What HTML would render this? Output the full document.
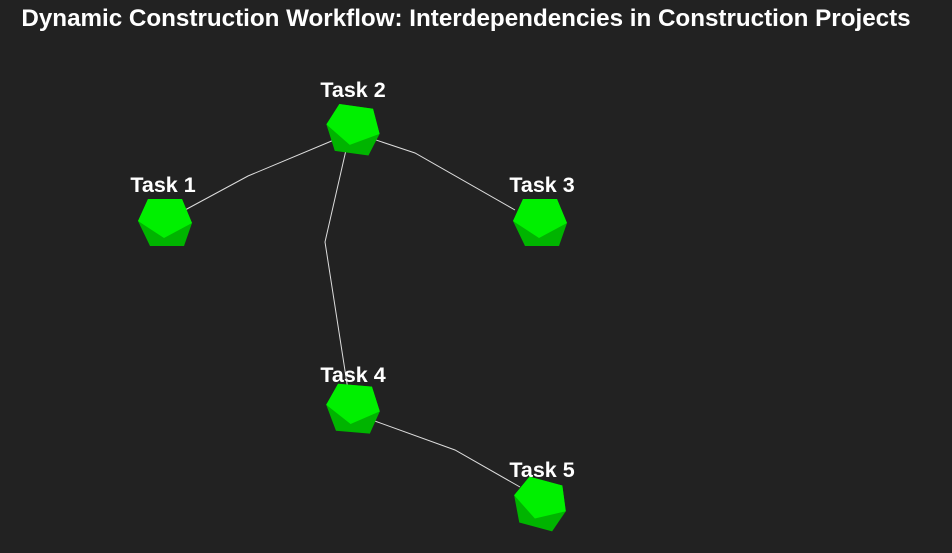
<!DOCTYPE html>
<html><head><style>
body{margin:0;background:#222;}
svg{display:block}
text{font-family:"Liberation Sans",Arial,sans-serif;font-weight:bold;fill:#fff}
</style></head><body>
<svg width="952" height="553" viewBox="0 0 952 553">
<rect width="952" height="553" fill="#222"/>
<text x="466" y="26" font-size="24.2" text-anchor="middle">Dynamic Construction Workflow: Interdependencies in Construction Projects</text>
<g stroke="#ddd" stroke-width="1" fill="none">
<polyline points="185,210 248,176 334,140"/>
<polyline points="370,138 415,153 515,210"/>
<polyline points="346,150 325,242 348,390"/>
<polyline points="372,420 455,450 520,487"/>
</g>
<defs>
<g id="n">
<polygon points="-16,-23 18,-23 28,1 20,24 -14,24 -26,-1" fill="#00b400"/>
<polygon points="-16,-23 18,-23 28,1 0,16 -26,-1" fill="#00f000"/>
</g>
</defs>
<use href="#n" transform="translate(164,222)"/>
<use href="#n" transform="translate(352,129) rotate(8)"/>
<use href="#n" transform="translate(539,222)"/>
<use href="#n" transform="translate(352,408) rotate(5)"/>
<use href="#n" transform="translate(539,503) rotate(15)"/>
<g font-size="21.5" text-anchor="middle">
<text x="163" y="192">Task 1</text>
<text x="353" y="97">Task 2</text>
<text x="542" y="192">Task 3</text>
<text x="353" y="382">Task 4</text>
<text x="542" y="477">Task 5</text>
</g>
</svg>
</body></html>
